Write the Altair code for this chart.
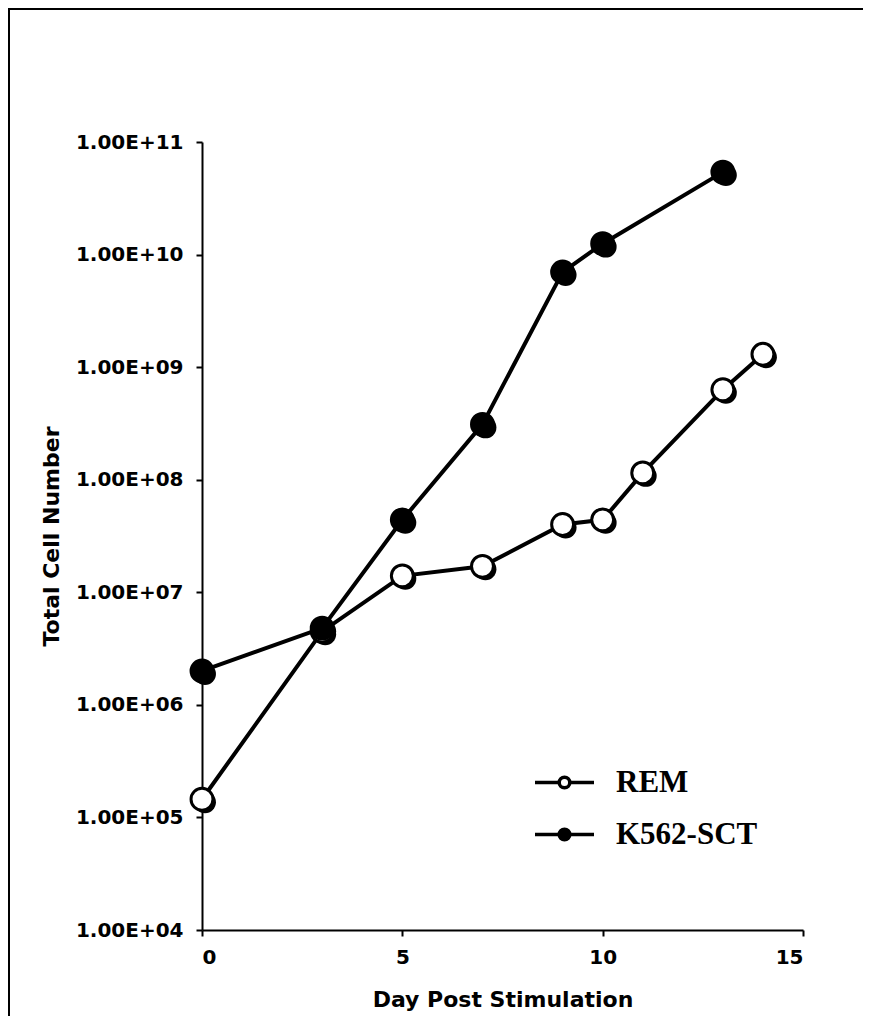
import altair as alt
import pandas as pd

# ---- data ----
rem_days = [0, 3, 5, 7, 9, 10, 11, 13, 14]
rem_cells = [1.45e5, 4.5e6, 1.4e7, 1.7e7, 4.0e7, 4.4e7, 1.15e8, 6.3e8, 1.3e9]
k562_days = [0, 3, 5, 7, 9, 10, 13]
k562_cells = [2.0e6, 4.8e6, 4.4e7, 3.1e8, 7.0e9, 1.25e10, 5.4e10]
series_names = ["REM", "K562-SCT"]
y_ticks = [1e4, 1e5, 1e6, 1e7, 1e8, 1e9, 1e10, 1e11]
x_ticks = [0, 5, 10, 15]

rows = []
for d, v in zip(rem_days, rem_cells):
    rows.append({"day": d, "cells": v, "series": series_names[0]})
for d, v in zip(k562_days, k562_cells):
    rows.append({"day": d, "cells": v, "series": series_names[1]})
df = pd.DataFrame(rows)

AXIS_FONT = "DejaVu Sans"

x_enc = alt.X(
    "day:Q",
    scale=alt.Scale(domain=[0, 15], nice=False),
    axis=alt.Axis(
        values=x_ticks, title="Day Post Stimulation", grid=False,
        domainColor="black", domainWidth=2, tickColor="black", tickWidth=2,
        tickSize=6, labelPadding=11, labelFont=AXIS_FONT, labelFontSize=20,
        labelFontWeight="bold", labelColor="black", titleFont=AXIS_FONT,
        titleFontSize=22, titleFontWeight="bold", titleColor="black",
        titlePadding=22,
    ),
)
y_enc = alt.Y(
    "cells:Q",
    scale=alt.Scale(type="log", domain=[1e4, 1e11], nice=False),
    axis=alt.Axis(
        values=y_ticks, title="Total Cell Number", grid=False,
        labelExpr="'1.00E+' + (round(log(datum.value)/LN10) < 10 ? '0' : '') + round(log(datum.value)/LN10)",
        domainColor="black", domainWidth=2, tickColor="black", tickWidth=2,
        tickSize=6, labelPadding=13, labelFont=AXIS_FONT, labelFontSize=20,
        labelFontWeight="bold", labelColor="black", titleFont=AXIS_FONT,
        titleFontSize=22, titleFontWeight="bold", titleColor="black",
        titlePadding=12,
    ),
)

base = alt.Chart(df)

lines = base.mark_line(color="black", strokeWidth=4).encode(
    x=x_enc, y=y_enc, detail="series:N", order="day:Q"
)

shadow = base.mark_point(
    shape="circle", filled=True, color="black", size=480, opacity=1,
    xOffset=3, yOffset=3,
).encode(x="day:Q", y="cells:Q")

legend_path = ("M-1,0L-0.18,0M0.18,0L1,0"
               "M0.18,0A0.18,0.18,0,1,1,-0.18,0A0.18,0.18,0,1,1,0.18,0Z")

points = base.mark_point(
    shape="circle", filled=True, stroke="black", strokeWidth=3, size=480,
    opacity=1,
).encode(
    x="day:Q", y="cells:Q",
    fill=alt.Fill(
        "series:N",
        scale=alt.Scale(domain=series_names, range=["white", "black"]),
        legend=alt.Legend(
            title=None, orient="none", legendX=331, legendY=609, padding=0,
            symbolType=legend_path, symbolSize=3481, symbolStrokeColor="black",
            symbolStrokeWidth=3.5, symbolOpacity=1, rowPadding=5,
            labelOffset=20, labelFont="Liberation Serif", labelFontSize=31,
            labelFontWeight="bold", labelColor="black",
        ),
    ),
)

frame = alt.Chart(pd.DataFrame({"f": [0]})).mark_rect(
    fill=None, stroke="black", strokeWidth=3
).encode(
    x=alt.value(-193.5), x2=alt.value(900),
    y=alt.value(-133.5), y2=alt.value(1000),
)

chart = alt.layer(frame, lines, shadow, points).properties(
    width=601, height=788,
    padding={"left": 194, "top": 134, "right": 60, "bottom": 86},
    autosize=alt.AutoSizeParams(type="none"),
    background="white",
).configure_view(stroke=None)

chart.save("out.html", embed_options={"renderer": "svg", "actions": False})
